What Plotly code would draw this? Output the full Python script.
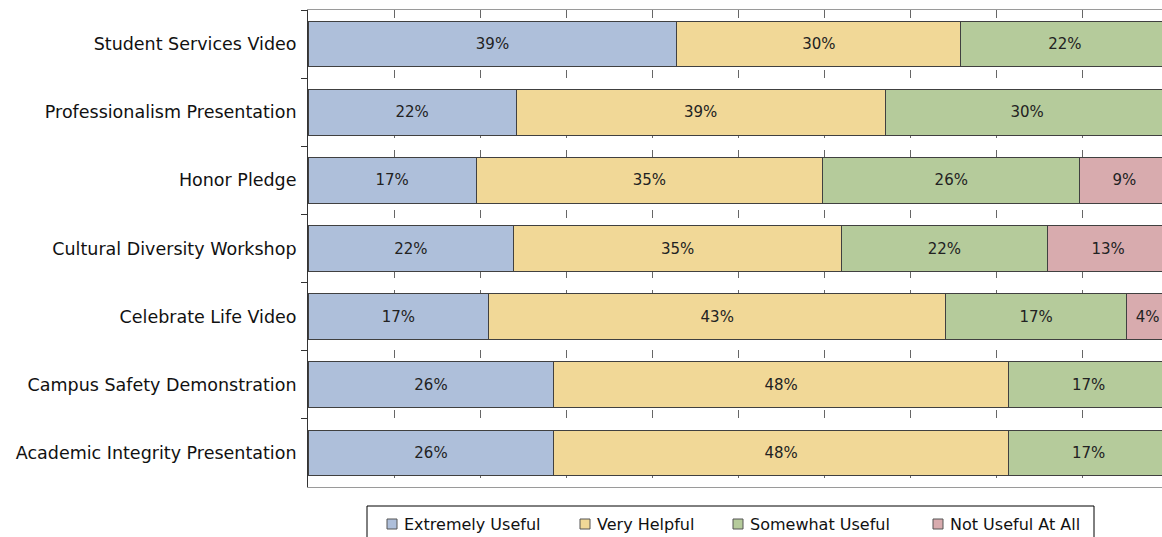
import plotly.graph_objects as go

# Orientation session items, listed top to bottom
categories = [
    "Student Services Video",
    "Professionalism Presentation",
    "Honor Pledge",
    "Cultural Diversity Workshop",
    "Celebrate Life Video",
    "Campus Safety Demonstration",
    "Academic Integrity Presentation",
]

# Share of respondents (%) choosing each rating
extremely_useful = [39, 22, 17, 22, 17, 26, 26]
very_helpful = [30, 39, 35, 35, 43, 48, 48]
somewhat_useful = [22, 30, 26, 22, 17, 17, 17]
not_useful_at_all = [0, 0, 9, 13, 4, 0, 0]

series_names = ["Extremely Useful", "Very Helpful", "Somewhat Useful", "Not Useful At All"]
series_values = [extremely_useful, very_helpful, somewhat_useful, not_useful_at_all]
series_colors = ["#AEBFDA", "#F1D897", "#B5CB9B", "#D8ABAE"]

FONT = "DejaVu Sans"
W, H = 1162, 537
M_L, M_R, M_T, M_B = 308, 0, 10, 50
PLOT_W = W - M_L - M_R
PLOT_H = H - M_T - M_B


def px_x(px):
    """Horizontal page pixel -> paper coordinate."""
    return (px - M_L) / PLOT_W


def px_y(py):
    """Vertical page pixel (from top) -> paper coordinate."""
    return (H - M_B - py) / PLOT_H


fig = go.Figure()
for name, vals, color in zip(series_names, series_values, series_colors):
    fig.add_trace(go.Bar(
        name=name,
        y=categories,
        x=vals,
        orientation="h",
        marker=dict(color=color, line=dict(color="#404040", width=1)),
        text=[f"{v}%" if v else "" for v in vals],
        textposition="inside",
        insidetextanchor="middle",
        textangle=0,
        textfont=dict(family=FONT, size=15, color="#222222"),
        hoverinfo="skip",
        showlegend=False,
    ))

# Legend box drawn below the plot area
shapes = [dict(
    type="rect", xref="paper", yref="paper",
    x0=px_x(367), x1=px_x(1094), y0=px_y(506), y1=px_y(560),
    line=dict(color="#000000", width=1), fillcolor="white", layer="above",
)]
annotations = []
legend_marker_px = [387, 580, 733, 933]
for name, color, mx in zip(series_names, series_colors, legend_marker_px):
    shapes.append(dict(
        type="rect", xref="paper", yref="paper",
        x0=px_x(mx), x1=px_x(mx + 10), y0=px_y(519), y1=px_y(529),
        line=dict(color="#555555", width=1), fillcolor=color, layer="above",
    ))
    annotations.append(dict(
        xref="paper", yref="paper",
        x=px_x(mx + 15), y=px_y(524),
        xanchor="left", yanchor="middle",
        text=name, showarrow=False,
        font=dict(family=FONT, size=16, color="#111111"),
    ))

fig.update_layout(
    width=W,
    height=H,
    margin=dict(l=M_L, r=M_R, t=M_T, b=M_B, autoexpand=False),
    barmode="stack",
    barnorm="percent",
    bargap=0.33,
    paper_bgcolor="white",
    plot_bgcolor="white",
    font=dict(family=FONT, color="#111111"),
    showlegend=False,
    shapes=shapes,
    annotations=annotations,
)

fig.update_xaxes(
    range=[0, 99.19],
    tick0=0,
    dtick=10,
    showticklabels=False,
    ticks="",
    showgrid=True,
    gridcolor="#666666",
    gridwidth=1,
    griddash="8px,12px",
    zeroline=False,
    showline=True,
    linecolor="#9a9a9a",
    linewidth=1,
    mirror=True,
)

fig.update_yaxes(
    autorange="reversed",
    showline=True,
    linecolor="#333333",
    linewidth=1,
    ticks="outside",
    ticklen=6,
    tickcolor="#333333",
    tickson="boundaries",
    ticklabelstandoff=7,
    tickfont=dict(family=FONT, size=17.5, color="#111111"),
    showgrid=False,
)

fig.write_html("out.html")
